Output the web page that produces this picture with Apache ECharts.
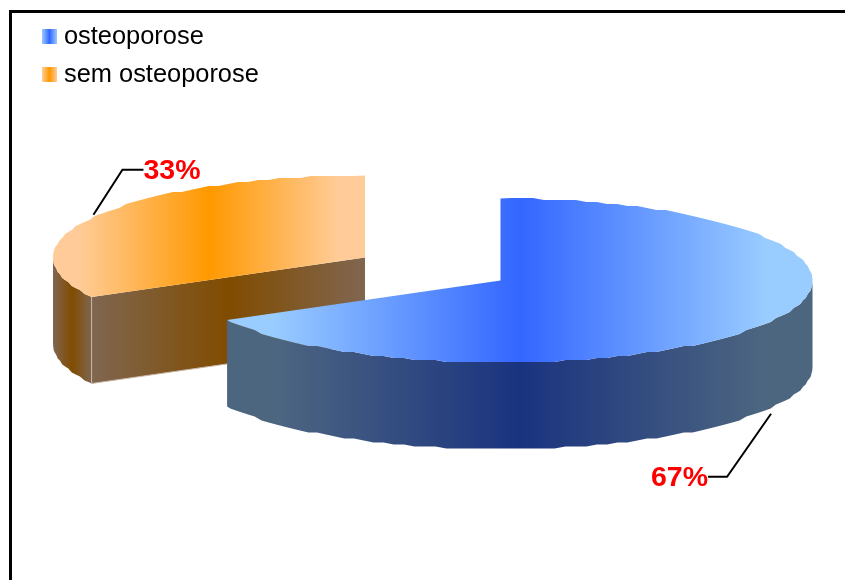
<!DOCTYPE html>
<html>
<head>
<meta charset="utf-8">
<style>html,body{margin:0;padding:0;background:#fff}#c{width:845px;height:580px}</style>
<script src="https://cdn.jsdelivr.net/npm/echarts@6/dist/echarts.min.js"></script>
</head>
<body>
<div id="c"></div>
<script>
// Share of patients in each group
const categories = ['osteoporose', 'sem osteoporose'];
const values = [67, 33];
const valueLabels = ['67%', '33%'];
const topColors = [['#99CCFF', '#3366FF'], ['#FFCC99', '#FF9900']];
const sideColors = [['#4D6680', '#1A3380'], ['#806650', '#804C00']];
const total = values.reduce((a, b) => a + b, 0);

// Pie projection: each exploded slice has its own centre, all share the tilt
const RX = 312, RY = 82, DEPTH = 86.5;
const centres = [[500.5, 280.5], [365, 257.5]];
// Leader bends relative to the slice's mid-angle rim point
const leaders = [
  { start: [2, 5], bend: [-42, 68], end: [-61, 68], anchor: 'right' },
  { start: [-3, -1], bend: [26, -46], end: [47, -46], anchor: 'left' }
];

const rad = d => d * Math.PI / 180;
const rim = (c, deg, dy) => [c[0] + RX * Math.sin(rad(deg)), c[1] - RY * Math.cos(rad(deg)) + (dy || 0)];
const STEP = 2;
// Arc outline sampled on a fixed angular grid and snapped in y, so the top face
// and the wall below it share identical vertices and the rim looks slightly stepped
function arc(c, a, b, dy) {
  const lo = Math.min(a, b), hi = Math.max(a, b);
  const pts = [rim(c, lo, dy)];
  for (let d = Math.floor(lo / STEP + 1) * STEP; d < hi; d += STEP) {
    const p = rim(c, d);
    pts.push([p[0], Math.round(p[1] / 2) * 2 + (dy || 0)]);
  }
  pts.push(rim(c, hi, dy));
  return a <= b ? pts : pts.reverse();
}
function gradient(pair, plateau) {
  const e = plateau || 0;
  return new echarts.graphic.LinearGradient(0, 0, 1, 0, [
    { offset: 0, color: pair[0] },
    { offset: e, color: pair[0] },
    { offset: 0.5, color: pair[1] },
    { offset: 1 - e, color: pair[0] },
    { offset: 1, color: pair[0] }
  ]);
}
function poly(points, fill) {
  return { type: 'polygon', shape: { points: points }, style: { fill: fill } };
}

function sliceRenderer(index) {
  return function () {
    const start = values.slice(0, index).reduce((a, b) => a + b, 0) / total * 360;
    const end = start + values[index] / total * 360;
    const mid = (start + end) / 2;
    const c = centres[index];
    const children = [];

    // Outer wall: only the part of the rim facing the viewer
    const from = Math.max(start, 90), to = Math.min(end, 270);
    if (to > from) {
      children.push(poly(arc(c, from, to).concat(arc(c, to, from, DEPTH)), gradient(sideColors[index], to - from > 60 ? 0.08 : 0)));
    }
    // Cut wall, visible when the start edge turns toward the viewer
    if (Math.sin(rad(start)) < 0) {
      const p = rim(c, start);
      children.push(poly([c, p, [p[0], p[1] + DEPTH], [c[0], c[1] + DEPTH]], gradient(sideColors[index])));
      children.push({
        type: 'polyline',
        shape: { points: [p, [p[0], p[1] + DEPTH], [c[0], c[1] + DEPTH]] },
        style: { stroke: '#C8B8A8', lineWidth: 1, fill: null }
      });
    }
    // Top face
    children.push(poly([c].concat(arc(c, start, end)), gradient(topColors[index], 0.08)));

    // Leader line and value label
    const l = leaders[index];
    const rimY = Math.cos(rad(mid)) < 0 ? DEPTH : 0;
    const a = rim(c, mid, rimY);
    const P = o => [a[0] + o[0], a[1] + o[1]];
    children.push({
      type: 'polyline',
      shape: { points: [P(l.start), P(l.bend), P(l.end)] },
      style: { stroke: '#000', lineWidth: 2, fill: null }
    });
    const e = P(l.end);
    children.push({
      type: 'text',
      style: {
        text: valueLabels[index], x: e[0], y: e[1] + 1.5, align: l.anchor, verticalAlign: 'middle',
        font: 'bold 28.5px "Liberation Sans", Arial, sans-serif', fill: '#FF0000'
      }
    });
    return { type: 'group', children: children };
  };
}

const chart = echarts.init(document.getElementById('c'), null, { renderer: 'canvas' });
chart.setOption({
  animation: false,
  backgroundColor: '#fff',
  legend: {
    orient: 'vertical', left: 42, top: 24, padding: 0, itemGap: 13,
    itemWidth: 15, itemHeight: 15, icon: 'rect',
    textStyle: {
      fontSize: 25.4, color: '#000', padding: [0, 0, 0, 2],
      fontFamily: '"Liberation Sans", Arial, sans-serif'
    },
    data: categories.map((name, i) => ({ name: name, itemStyle: { color: gradient(topColors[i]) } }))
  },
  graphic: [{
    type: 'polyline',
    shape: { points: [[10.5, 600], [10.5, 11.5], [860, 11.5]] },
    style: { stroke: '#000', lineWidth: 3, fill: null }
  }],
  series: categories.map((name, i) => ({
    type: 'custom', name: name, coordinateSystem: 'none',
    z: i === 0 ? 3 : 2, silent: true,
    itemStyle: { color: topColors[i][1] },
    data: [values[i]],
    renderItem: sliceRenderer(i)
  }))
});
</script>
</body>
</html>
